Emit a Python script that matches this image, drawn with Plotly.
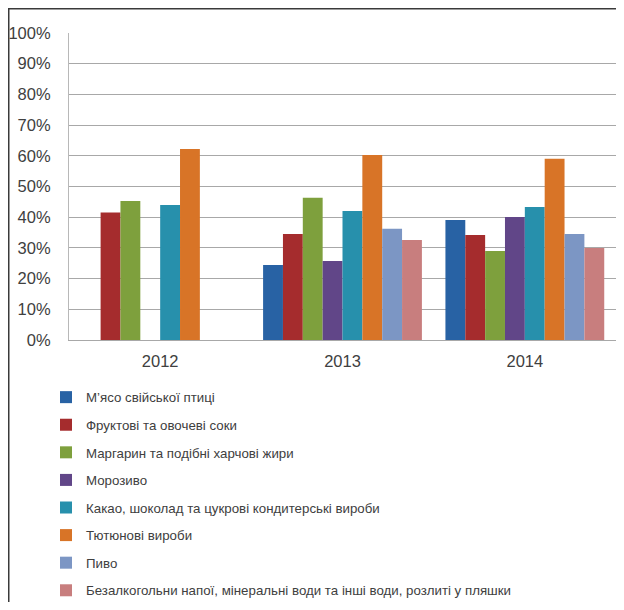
import plotly.graph_objects as go

years = ["2012", "2013", "2014"]
series_names = [
    "М’ясо свійської птиці",
    "Фруктові та овочеві соки",
    "Маргарин та подібні харчові жири",
    "Морозиво",
    "Какао, шоколад та цукрові кондитерські вироби",
    "Тютюнові вироби",
    "Пиво",
    "Безалкогольни напої, мінеральні води та інші води, розлиті у пляшки",
]
meat = [None, 0.244, 0.391]
juices = [0.415, 0.345, 0.342]
margarine = [0.453, 0.463, 0.290]
icecream = [None, 0.257, 0.401]
cocoa = [0.440, 0.420, 0.433]
tobacco = [0.622, 0.603, 0.590]
beer = [None, 0.362, 0.345]
softdrinks = [None, 0.326, 0.300]

series_values = [meat, juices, margarine, icecream, cocoa, tobacco, beer, softdrinks]
colors = ["#2862A4", "#A52C2D", "#7EA03D", "#614688", "#2790AC", "#D87427", "#7C96C4", "#C87E7E"]

fig = go.Figure()
for i, (name, vals, col) in enumerate(zip(series_names, series_values, colors)):
    fig.add_trace(go.Bar(
        x=years, y=vals, name=name, marker=dict(color=col, line=dict(width=0)),
        legendgroup=f"g{i}",
    ))

# page body adds an 8px margin, so the figure is sized to fit the window
W, H = 608, 594
L, R, T, B = 61, 0, 25, 262
pw, ph = W - L - R, H - T - B

def px_x(x):
    return (x - L) / pw

def px_y(y):
    return (H - B - y) / ph

fig.update_layout(
    width=W, height=H,
    margin=dict(l=L, r=R, t=T, b=B, pad=0, autoexpand=False),
    paper_bgcolor="white", plot_bgcolor="white",
    barmode="group", bargap=0.129, bargroupgap=0,
    font=dict(family="Liberation Sans, Arial, sans-serif", color="#404040", size=14),
    showlegend=True,
    legend=dict(
        orientation="v", x=px_x(38), xanchor="left", y=px_y(374), yanchor="top",
        font=dict(size=13.3, color="#404040"), tracegroupgap=7.3,
        bgcolor="rgba(0,0,0,0)", itemwidth=30,
    ),
    xaxis=dict(
        showgrid=False, showline=True, linecolor="#a8a8a8", linewidth=1.2,
        ticks="", tickfont=dict(size=16.5, color="#404040"), ticklabelstandoff=6,
    ),
    yaxis=dict(
        range=[0, 1], dtick=0.1, tickformat=".0%",
        showgrid=True, gridcolor="#a8a8a8", gridwidth=1.2,
        showline=True, linecolor="#b8b8b8", linewidth=1.2, zeroline=False,
        ticks="", tickfont=dict(size=16.5, color="#404040"), ticklabelstandoff=14,
    ),
    shapes=[dict(
        type="rect", xref="paper", yref="paper",
        x0=px_x(0.75), x1=px_x(640), y0=px_y(640), y1=px_y(0.75),
        line=dict(color="#3a3a3a", width=1.5), fillcolor="rgba(0,0,0,0)", layer="above",
    )],
)

fig.write_html("out.html", config={"displayModeBar": False})
